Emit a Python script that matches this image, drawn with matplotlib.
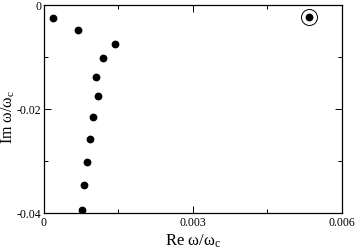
import matplotlib
matplotlib.use("Agg")
import matplotlib.pyplot as plt
from matplotlib.ticker import MultipleLocator

plt.rcParams['font.family'] = ['Liberation Serif', 'DejaVu Serif']
plt.rcParams['mathtext.fontset'] = 'custom'
plt.rcParams['mathtext.rm'] = 'Liberation Serif'
plt.rcParams['mathtext.it'] = 'Liberation Serif'

re_vals = [1.81e-4, 6.85e-4, 1.438e-3, 1.196e-3, 1.055e-3, 1.089e-3,
           9.81e-4, 9.34e-4, 8.60e-4, 8.13e-4, 7.59e-4]
im_vals = [-0.00244, -0.00487, -0.00757, -0.0102, -0.01378, -0.0175,
           -0.02148, -0.02577, -0.03013, -0.03468, -0.03936]
special_re = [5.34e-3]
special_im = [-0.00225]

fig = plt.figure(figsize=(3.57, 2.5), dpi=100)
ax = fig.add_axes([0.1232, 0.148, 0.834, 0.832])
ax.plot(re_vals, im_vals, 'o', color='black', markersize=4.6, linestyle='none')
ax.plot(special_re, special_im, 'o', color='black', markersize=4.6, linestyle='none')
ax.plot(special_re, special_im, 'o', markerfacecolor='none', markeredgecolor='black',
        markeredgewidth=0.7, markersize=11.5, linestyle='none')

ax.set_xlim(0, 0.006)
ax.set_ylim(-0.04, 0)
ax.set_xticks([0, 0.003, 0.006])
ax.set_xticklabels(['0', '0.003', '0.006'])
ax.set_yticks([-0.04, -0.02, 0])
ax.set_yticklabels(['-0.04', '-0.02', '0'])
ax.xaxis.set_minor_locator(MultipleLocator(0.0015))
ax.yaxis.set_minor_locator(MultipleLocator(0.01))
ax.tick_params(which='both', direction='in', top=True, right=True, labelsize=8.5)
ax.tick_params(axis='x', pad=3)
ax.tick_params(axis='y', pad=2)
ax.tick_params(which='major', length=5, width=0.7)
ax.tick_params(which='minor', length=3, width=0.7)
for s in ax.spines.values():
    s.set_linewidth(0.9)

ax.set_xlabel(r'Re ω/ω$_{\rm c}$', fontsize=12)
ax.set_ylabel(r'Im ω/ω$_{\rm c}$', fontsize=11.5)
ax.xaxis.set_label_coords(0.5, -0.095)
ax.yaxis.set_label_coords(-0.092, 0.46)

fig.savefig('out.png', dpi=100)
